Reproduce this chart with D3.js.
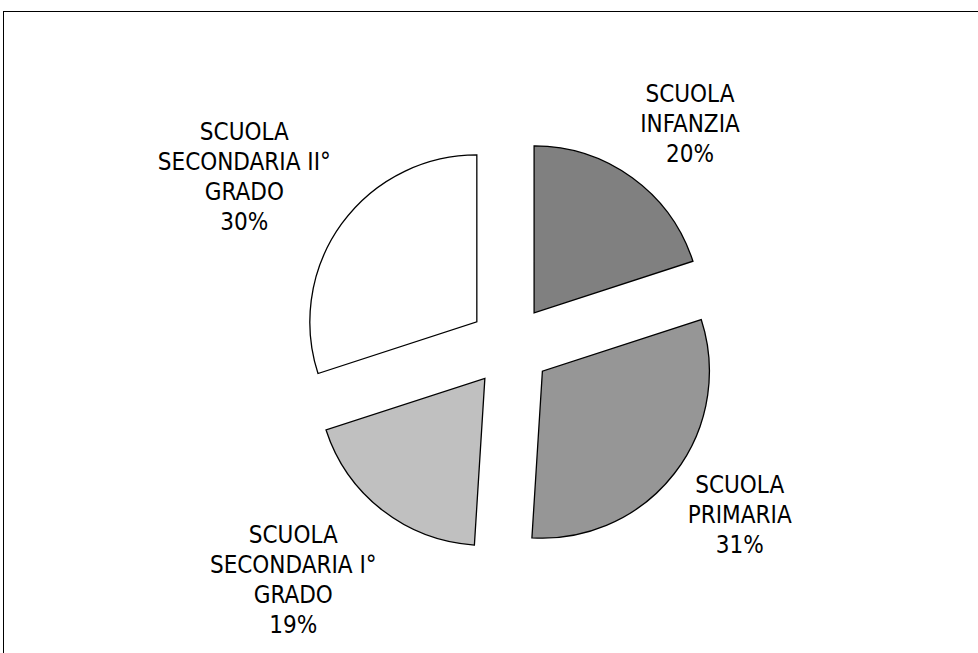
<!DOCTYPE html>
<html>
<head>
<meta charset="utf-8">
<script src="https://cdn.jsdelivr.net/npm/d3@7"></script>
<style>
  body { margin: 0; background: #fff; }
  text { font-family: "DejaVu Sans Condensed", "DejaVu Sans", sans-serif; font-stretch: condensed; fill: #000; }
</style>
</head>
<body>
<div id="chart"></div>
<script>
(function() {
  var width = 978, height = 653;

  // data
  var categories = ["SCUOLA INFANZIA", "SCUOLA PRIMARIA", "SCUOLA SECONDARIA I° GRADO", "SCUOLA SECONDARIA II° GRADO"];
  var labelLines = [
    ["SCUOLA", "INFANZIA"],
    ["SCUOLA", "PRIMARIA"],
    ["SCUOLA", "SECONDARIA I°", "GRADO"],
    ["SCUOLA", "SECONDARIA II°", "GRADO"]
  ];
  var values = [20, 31, 19, 30];
  var fills = ["#808080", "#969696", "#c0c0c0", "#ffffff"];

  // layout
  var cx = 510, cy = 346, radius = 167, explode = 41, lineHeight = 30;
  // label placement: angle nudge (deg) and distance from centre
  var labelNudge = [3, -1.5, 5, -3.5];
  var labelDist = [286, 285, 319, 315];

  var svg = d3.select("#chart")
    .append("svg")
    .attr("width", width)
    .attr("height", height);

  // outer frame
  svg.append("rect")
    .attr("x", 3.5)
    .attr("y", 11.5)
    .attr("width", width + 20)
    .attr("height", height + 20)
    .attr("fill", "none")
    .attr("stroke", "#000")
    .attr("stroke-width", 1);

  var pie = d3.pie().sort(null).value(function(d) { return d; });
  var arcs = pie(values);

  var arc = d3.arc().innerRadius(0).outerRadius(radius);

  var g = svg.append("g")
    .attr("transform", "translate(" + cx + "," + cy + ")");

  g.selectAll("path")
    .data(arcs)
    .enter().append("path")
    .attr("d", arc)
    .attr("fill", function(d, i) { return fills[i]; })
    .attr("stroke", "#000")
    .attr("stroke-width", 1.3)
    .attr("stroke-linejoin", "miter")
    .attr("transform", function(d) {
      var a = (d.startAngle + d.endAngle) / 2;
      return "translate(" + (explode * Math.sin(a)) + "," + (-explode * Math.cos(a)) + ")";
    });

  var labels = g.selectAll("text.lbl")
    .data(arcs)
    .enter().append("text")
    .attr("class", "lbl")
    .attr("text-anchor", "middle")
    .style("font-size", "24px")
    .attr("transform", function(d, i) {
      var a = (d.startAngle + d.endAngle) / 2 + labelNudge[i] * Math.PI / 180;
      return "translate(" + (labelDist[i] * Math.sin(a)) + "," + (-labelDist[i] * Math.cos(a)) + ")";
    });

  labels.each(function(d, i) {
    var lines = labelLines[i].concat([Math.round(d.value) + "%"]);
    var t = d3.select(this);
    var y0 = -(lines.length - 1) * lineHeight / 2;
    lines.forEach(function(l, k) {
      t.append("tspan")
        .attr("x", 0)
        .attr("y", y0 + k * lineHeight)
        .attr("dy", "0.35em")
        .text(l);
    });
  });
})();
</script>
</body>
</html>
